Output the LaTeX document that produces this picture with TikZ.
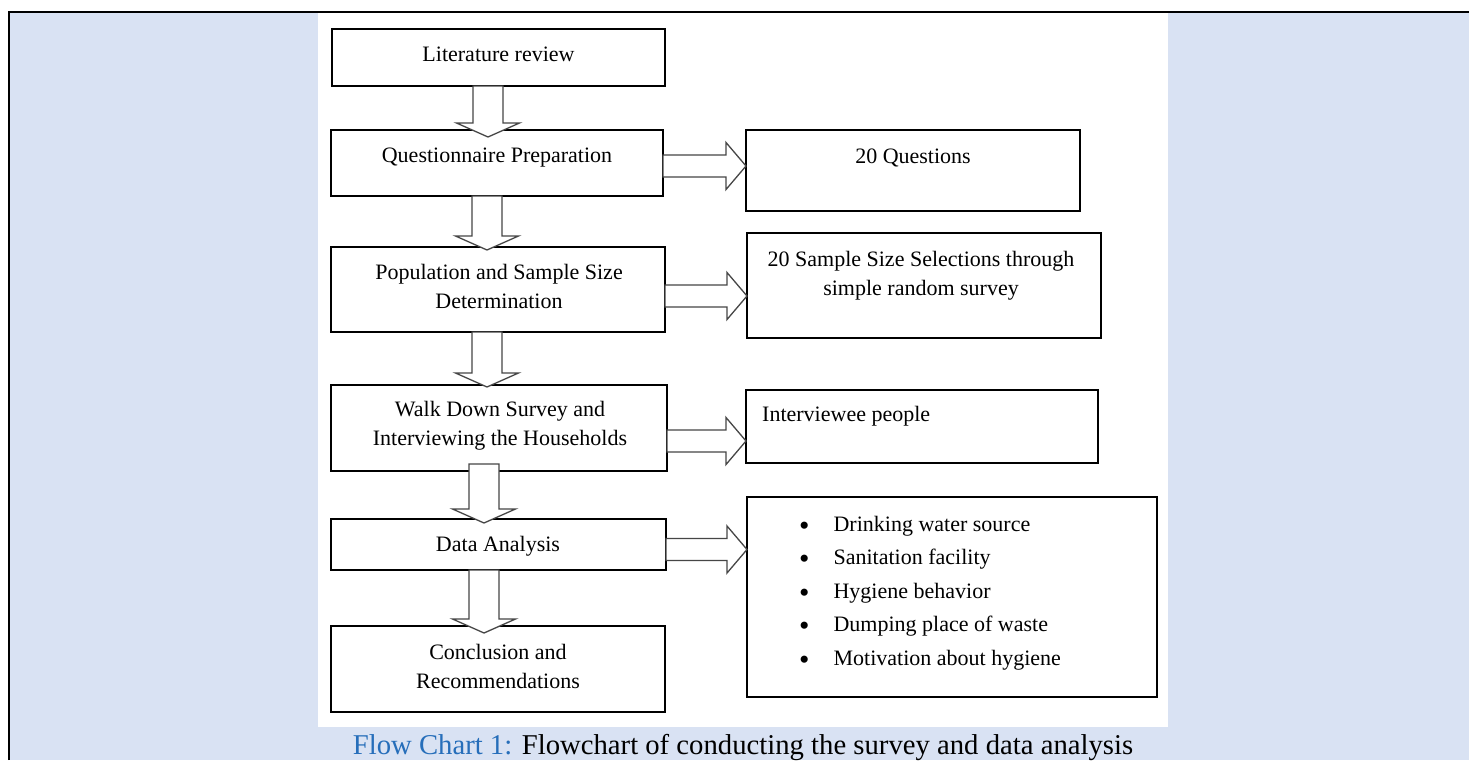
\documentclass[tikz,border=0pt]{standalone}
\usepackage{fontspec}
\setmainfont{Liberation Serif}
\usetikzlibrary{calc}
\definecolor{bgblue}{RGB}{217,226,243}
\definecolor{capblue}{RGB}{38,110,186}
\definecolor{arrgray}{RGB}{70,70,70}
\newcommand\vblk[2]{\draw[barrow] ($(#1)+(-15,0)$) -- ($(#2)+(-15,-14)$) -- ($(#2)+(-31.5,-14)$) -- (#2) -- ($(#2)+(31.5,-14)$) -- ($(#2)+(15,-14)$) -- ($(#1)+(15,0)$) -- cycle;}
\newcommand\hblk[2]{\draw[barrow] ($(#1)+(0,-11)$) -- ($(#2)+(-20,-11)$) -- ($(#2)+(-20,-23.5)$) -- (#2) -- ($(#2)+(-20,23.5)$) -- ($(#2)+(-20,11)$) -- ($(#1)+(0,11)$) -- cycle;}
\newcommand\bigbul{\raisebox{-4pt}{\scalebox{1.35}{•}}}
\begin{document}
\begin{tikzpicture}[x=1pt,y=-1pt,
  box/.style={draw=black, line width=2.3pt, fill=white, inner sep=0pt, outer sep=0pt},
  txt/.style={font=\fontsize{22}{29}\selectfont, inner sep=0pt, align=center, anchor=base},
  barrow/.style={draw=arrgray, line width=1.3pt, fill=white, line join=miter}]
\useasboundingbox (0,0) rectangle (1469,760);
\fill[bgblue] (9,12) rectangle (1469,760);
\fill[white] (318,13) rectangle (1168,727);
\draw[line width=2.5pt] (9,760) -- (9,12) -- (1469,12);

% boxes
\node[box, minimum width=333pt, minimum height=57pt] (lit) at (498.5,57.5) {};
\node[box, minimum width=332pt, minimum height=66pt] (q) at (497,163) {};
\node[box, minimum width=334pt, minimum height=81pt] (q20) at (913,170.5) {};
\node[box, minimum width=334pt, minimum height=85pt] (pop) at (498,289.5) {};
\node[box, minimum width=354pt, minimum height=105pt] (sample) at (924,285.5) {};
\node[box, minimum width=336pt, minimum height=86pt] (walk) at (499,428) {};
\node[box, minimum width=352pt, minimum height=73pt] (inter) at (922,426.5) {};
\node[box, minimum width=335pt, minimum height=51pt] (data) at (498.5,544.5) {};
\node[box, minimum width=410pt, minimum height=200pt] (bul) at (952,597) {};
\node[box, minimum width=334pt, minimum height=86pt] (conc) at (498,669) {};

% texts (base anchor of a two-line node is the baseline of its last line)
\node[txt] (litT) at (498.5,62) {Literature review};
\node[txt] (qT) at (497,162) {Questionnaire Preparation};
\node[txt] (q20T) at (913,163) {20 Questions};
\node[txt] (popT) at (499,308) {Population and Sample Size\\Determination};
\node[txt] (sampleT) at (921,295) {20 Sample Size Selections through\\simple random survey};
\node[txt] (walkT) at (500,445) {Walk Down Survey and\\Interviewing the Households};
\node[txt, anchor=base west] (interT) at (762,421) {Interviewee people};
\node[txt] (dataT) at (498,551) {Data Analysis};
\node[txt] (concT) at (498,688) {Conclusion and\\Recommendations};
\node[txt, anchor=base west, align=left, font=\fontsize{22}{33.5}\selectfont] (bulT) at (799,531)
  {\begin{tabular}[t]{@{}l@{\hspace{24pt}}l@{}}
   \bigbul & Drinking water source\\
   \bigbul & Sanitation facility\\
   \bigbul & Hygiene behavior\\
   \bigbul & Dumping place of waste\\
   \bigbul & Motivation about hygiene
   \end{tabular}};

% vertical block arrows
\coordinate (a1s) at ($(lit.south)+(-10.5,0)$);
\coordinate (a1t) at ($(a1s |- q.north)+(0,7)$);
\coordinate (a2s) at ($(q.south)+(-10,0)$);
\coordinate (a2t) at ($(a2s |- pop.north)+(0,3)$);
\coordinate (a3s) at ($(pop.south)+(-11,0)$);
\coordinate (a3t) at ($(a3s |- walk.north)+(0,2)$);
\coordinate (a4s) at ($(walk.south)+(-15,-7)$);
\coordinate (a4t) at ($(a4s |- data.north)+(0,4)$);
\coordinate (a5s) at ($(data.south)+(-14.5,0)$);
\coordinate (a5t) at ($(a5s |- conc.north)+(0,7)$);
\vblk{a1s}{a1t}
\vblk{a2s}{a2t}
\vblk{a3s}{a3t}
\vblk{a4s}{a4t}
\vblk{a5s}{a5t}

% horizontal block arrows
\coordinate (h1s) at ($(q.east)+(0,3)$);
\coordinate (h1t) at (h1s -| q20.west);
\coordinate (h2s) at ($(pop.east)+(0,6.5)$);
\coordinate (h2t) at (h2s -| sample.west);
\coordinate (h3s) at ($(walk.east)+(0,13)$);
\coordinate (h3t) at (h3s -| inter.west);
\coordinate (h4s) at ($(data.east)+(0,5)$);
\coordinate (h4t) at (h4s -| bul.west);
\hblk{h1s}{h1t}
\hblk{h2s}{h2t}
\hblk{h3s}{h3t}
\hblk{h4s}{h4t}

% caption
\node[anchor=base, inner sep=0pt, font=\fontsize{28.7}{32}\selectfont] (cap) at (743,754)
  {\textcolor{capblue}{Flow Chart 1:} Flowchart of conducting the survey and data analysis};
\end{tikzpicture}
\end{document}
